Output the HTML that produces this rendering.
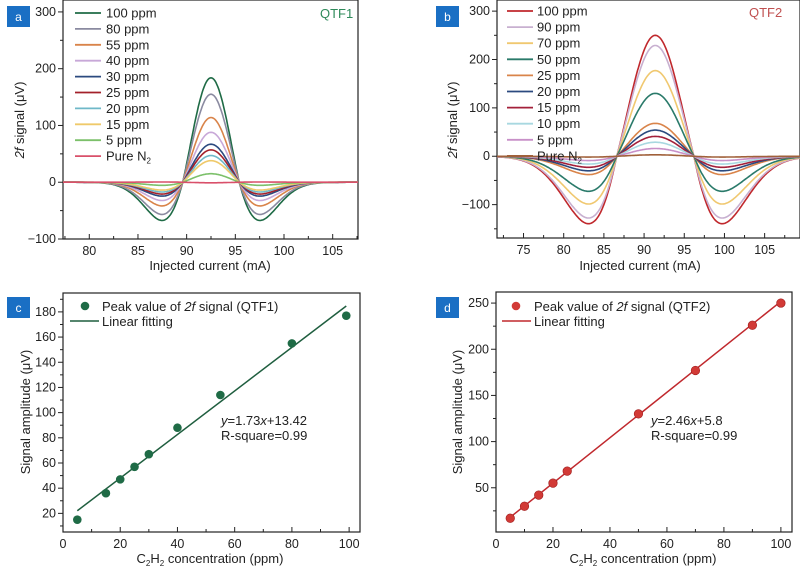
<!DOCTYPE html>
<html><head><meta charset="utf-8"><style>
body{margin:0;background:#fff;width:800px;height:570px;overflow:hidden}
svg{font-family:"Liberation Sans",sans-serif}
</style></head><body>
<svg id="s" width="800" height="570" xmlns="http://www.w3.org/2000/svg"></svg>
<script>
const S=document.getElementById('s');let h='';
function ax(o){
 const {L,R,T,B,x0,x1,y0,y1,xt,xm,yt,ym}=o;
 const X=v=>L+(v-x0)/(x1-x0)*(R-L), Y=v=>B-(v-y0)/(y1-y0)*(B-T);
 h+=`<rect x="${L}" y="${T}" width="${R-L}" height="${B-T}" fill="none" stroke="#222" stroke-width="1.2"/>`;
 for(let v=Math.ceil(x0/xm)*xm;v<=x1;v+=xm){const maj=Math.abs(v/xt-Math.round(v/xt))<1e-6;const px=X(v);
  h+=`<line x1="${px}" x2="${px}" y1="${B}" y2="${B-(maj?5:3)}" stroke="#222"/>`;
  if(maj)h+=`<text x="${px}" y="${B+16}" font-size="12.5" text-anchor="middle" fill="#222">${v}</text>`;}
 for(let v=Math.ceil(y0/ym)*ym;v<=y1;v+=ym){const maj=Math.abs(v/yt-Math.round(v/yt))<1e-6;const py=Y(v);
  h+=`<line x1="${L}" x2="${L-(maj?5:3)}" y1="${py}" y2="${py}" stroke="#222"/>`;
  if(maj)h+=`<text x="${L-7}" y="${py+4}" font-size="12.5" text-anchor="end" fill="#222">${v<0?'−'+(-v):v}</text>`;}
 return {X,Y};
}
function badge(x,y,t){h+=`<rect x="${x}" y="${y}" width="23" height="21" fill="#1a6fc4"/><text x="${x+11.5}" y="${y+15}" font-size="12" fill="#fff" text-anchor="middle">${t}</text>`;}
function curves(A,c,s,neg,ser){
 for(const [amp,col] of ser){let p='';
  for(let x=A.x0;x<=A.x1;x+=0.1){const u=(x-c)/s;let g=(1-u*u)*Math.exp(-u*u/2);if(g<0)g*=neg;
   const y=amp*g;p+=(p?'L':'M')+A.X(x).toFixed(1)+' '+A.Y(y).toFixed(1);}
  h+=`<path d="${p}" fill="none" stroke="${col}" stroke-width="1.6"/>`;}
}
function legend(x,y0,dy,ser,names,tx){ser.forEach((s,i)=>{const y=y0+i*dy;
 h+=`<line x1="${x}" x2="${x+26}" y1="${y}" y2="${y}" stroke="${s[1]}" stroke-width="1.8"/><text x="${tx}" y="${y+4.5}" font-size="13" fill="#222">${names[i]}</text>`;});}
// Panel a
let a=ax({L:63,R:358,T:0,B:239,x0:77.3,x1:107.6,y0:-100,y1:321,xt:5,xm:2.5,yt:100,ym:50});a.x0=77.3;a.x1=107.6;
const sa=[[184,'#1f6b46'],[155,'#8a8aa0'],[114,'#d9844a'],[88,'#c8a8d8'],[67,'#2b4a7f'],[57,'#a3202a'],[47,'#6fb8c8'],[38,'#efc96a'],[15,'#7cc06a'],[-1,'#d9506a']];
curves(a,92.5,2.9,0.82,sa);
legend(75,13,15.9,sa,['100 ppm','80 ppm','55 ppm','40 ppm','30 ppm','25 ppm','20 ppm','15 ppm','5 ppm','Pure N<tspan font-size="8" dy="3">2</tspan>'],106);
h+=`<text x="320" y="18" font-size="13" fill="#2e8a5a">QTF1</text>`;
h+=`<text x="210" y="270" font-size="13" text-anchor="middle" fill="#222">Injected current (mA)</text>`;
h+=`<text transform="translate(24,120) rotate(-90)" font-size="13" text-anchor="middle" fill="#222"><tspan font-style="italic">2f</tspan> signal (μV)</text>`;
badge(7,6,'a');
// Panel b
let b=ax({L:497,R:800,T:0,B:238,x0:71.7,x1:109.4,y0:-169,y1:323,xt:5,xm:2.5,yt:100,ym:50});b.x0=71.7;b.x1=109.4;
const sb=[[250,'#c0282d'],[229,'#c8b0d0'],[177,'#f0c870'],[130,'#2a7a6a'],[68,'#d9844a'],[54,'#2b4a7f'],[41,'#a3203a'],[29,'#a8d8e0'],[16,'#c890c8'],[3,'#a0603a']];
curves(b,91.4,4.8,1.25,sb);
legend(507,11,16.1,sb,['100 ppm','90 ppm','70 ppm','50 ppm','25 ppm','20 ppm','15 ppm','10 ppm','5 ppm','Pure N<tspan font-size="8" dy="3">2</tspan>'],537);
h+=`<text x="749" y="17" font-size="13" fill="#c05050">QTF2</text>`;
h+=`<text x="640" y="270" font-size="13" text-anchor="middle" fill="#222">Injected current (mA)</text>`;
h+=`<text transform="translate(457,120) rotate(-90)" font-size="13" text-anchor="middle" fill="#222"><tspan font-style="italic">2f</tspan> signal (μV)</text>`;
badge(436,6,'b');
// Panel c
let c=ax({L:63,R:360,T:293,B:532,x0:0,x1:103.8,y0:5.2,y1:195,xt:20,xm:10,yt:20,ym:10});
h+=`<line x1="${c.X(5)}" y1="${c.Y(1.73*5+13.42)}" x2="${c.X(99)}" y2="${c.Y(1.73*99+13.42)}" stroke="#1f5e3f" stroke-width="1.5"/>`;
[[5,15],[15,36],[20,47],[25,57],[30,67],[40,88],[55,114],[80,155],[99,177]].forEach(([x,y])=>h+=`<circle cx="${c.X(x)}" cy="${c.Y(y)}" r="4.3" fill="#1f6b46"/>`);
h+=`<circle cx="85" cy="306" r="4.3" fill="#1f6b46"/><text x="102" y="311" font-size="13" fill="#222">Peak value of <tspan font-style="italic">2f</tspan> signal (QTF1)</text>`;
h+=`<line x1="70" x2="99" y1="321" y2="321" stroke="#1f5e3f" stroke-width="1.5"/><text x="102" y="326" font-size="13" fill="#222">Linear fitting</text>`;
h+=`<text x="221" y="425" font-size="13" fill="#222"><tspan font-style="italic">y</tspan>=1.73<tspan font-style="italic">x</tspan>+13.42</text><text x="221" y="440" font-size="13" fill="#222">R-square=0.99</text>`;
h+=`<text x="210" y="563" font-size="13" text-anchor="middle" fill="#222">C<tspan font-size="8" dy="3">2</tspan><tspan dy="-3">H</tspan><tspan font-size="8" dy="3">2</tspan><tspan dy="-3"> concentration (ppm)</tspan></text>`;
h+=`<text transform="translate(30,412) rotate(-90)" font-size="13" text-anchor="middle" fill="#222">Signal amplitude (μV)</text>`;
badge(7,297,'c');
// Panel d
let d=ax({L:496,R:792,T:292,B:532,x0:0,x1:103.9,y0:2.1,y1:262,xt:20,xm:10,yt:50,ym:25});
h+=`<line x1="${d.X(5)}" y1="${d.Y(2.46*5+5.8)}" x2="${d.X(100)}" y2="${d.Y(2.46*100+5.8)}" stroke="#c0282d" stroke-width="1.5"/>`;
[[5,17],[10,30],[15,42],[20,55],[25,68],[50,130],[70,177],[90,226],[100,250]].forEach(([x,y])=>h+=`<circle cx="${d.X(x)}" cy="${d.Y(y)}" r="4.3" fill="#d23a36" stroke="#a01c1c" stroke-width="0.6"/>`);
h+=`<circle cx="516" cy="306" r="4.3" fill="#d23a36"/><text x="534" y="311" font-size="13" fill="#222">Peak value of <tspan font-style="italic">2f</tspan> signal (QTF2)</text>`;
h+=`<line x1="502" x2="531" y1="321" y2="321" stroke="#c0282d" stroke-width="1.5"/><text x="534" y="326" font-size="13" fill="#222">Linear fitting</text>`;
h+=`<text x="651" y="425" font-size="13" fill="#222"><tspan font-style="italic">y</tspan>=2.46<tspan font-style="italic">x</tspan>+5.8</text><text x="651" y="440" font-size="13" fill="#222">R-square=0.99</text>`;
h+=`<text x="643" y="563" font-size="13" text-anchor="middle" fill="#222">C<tspan font-size="8" dy="3">2</tspan><tspan dy="-3">H</tspan><tspan font-size="8" dy="3">2</tspan><tspan dy="-3"> concentration (ppm)</tspan></text>`;
h+=`<text transform="translate(462,412) rotate(-90)" font-size="13" text-anchor="middle" fill="#222">Signal amplitude (μV)</text>`;
badge(436,297,'d');
S.innerHTML=h;
</script>
</body></html>
